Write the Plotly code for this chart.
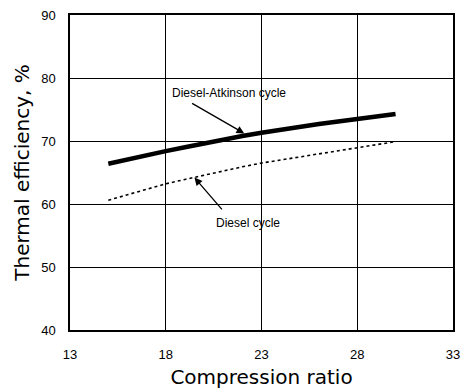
import plotly.graph_objects as go

cr = [15, 16, 17, 18, 19, 20, 21, 22, 23, 24, 25, 26, 27, 28, 29, 30]
atkinson = [66.4, 67.1, 67.8, 68.4, 69.0, 69.6, 70.3, 70.8, 71.3, 71.8, 72.3, 72.7, 73.1, 73.5, 73.9, 74.3]
diesel = [60.6, 61.5, 62.4, 63.2, 63.9, 64.6, 65.3, 65.9, 66.5, 67.0, 67.5, 68.0, 68.5, 69.0, 69.5, 69.9]

x_ticks = [13, 18, 23, 28, 33]
y_ticks = [40, 50, 60, 70, 80, 90]

font = "Liberation Sans, Arial, sans-serif"
title_font = "DejaVu Sans, sans-serif"

fig = go.Figure()
fig.add_trace(go.Scatter(x=cr, y=atkinson, mode="lines",
                         line=dict(color="black", width=4.5), showlegend=False))
fig.add_trace(go.Scatter(x=cr, y=diesel, mode="lines",
                         line=dict(color="black", width=1.6, dash="dot"), showlegend=False))

# labels with arrows
fig.add_annotation(x=22.1, y=71.2, ax=19.3, ay=76.1, xref="x", yref="y", axref="x", ayref="y",
                   text="", showarrow=True, arrowhead=2, arrowsize=1.2, arrowwidth=1.3, arrowcolor="black")
fig.add_annotation(x=21.3, y=77.6, text="Diesel-Atkinson cycle", showarrow=False,
                   font=dict(family=font, size=12, color="black"))
fig.add_annotation(x=19.5, y=64.2, ax=21.0, ay=58.9, xref="x", yref="y", axref="x", ayref="y",
                   text="", showarrow=True, arrowhead=2, arrowsize=1.2, arrowwidth=1.3, arrowcolor="black")
fig.add_annotation(x=22.3, y=57.0, text="Diesel cycle", showarrow=False,
                   font=dict(family=font, size=12, color="black"))

axis_common = dict(showline=True, linecolor="black", linewidth=1.5, mirror=True,
                   showgrid=True, gridcolor="black", gridwidth=1, zeroline=False,
                   ticks="", tickfont=dict(family=font, size=13, color="black"))

fig.update_layout(
    width=466, height=391,
    margin=dict(l=70, r=6, t=15, b=59),
    paper_bgcolor="white", plot_bgcolor="white",
    xaxis=dict(range=[13, 33], tickvals=x_ticks, ticktext=[str(v) for v in x_ticks],
               ticklabelstandoff=12,
               title=dict(text="Compression ratio", font=dict(family=title_font, size=20, color="black"),
                          standoff=9),
               **axis_common),
    yaxis=dict(range=[40, 90], tickvals=y_ticks, ticktext=[str(v) for v in y_ticks],
               ticklabelstandoff=10,
               title=dict(text="Thermal efficiency, %", font=dict(family=title_font, size=20, color="black"),
                          standoff=6),
               **axis_common),
)

fig.write_html("out.html")
